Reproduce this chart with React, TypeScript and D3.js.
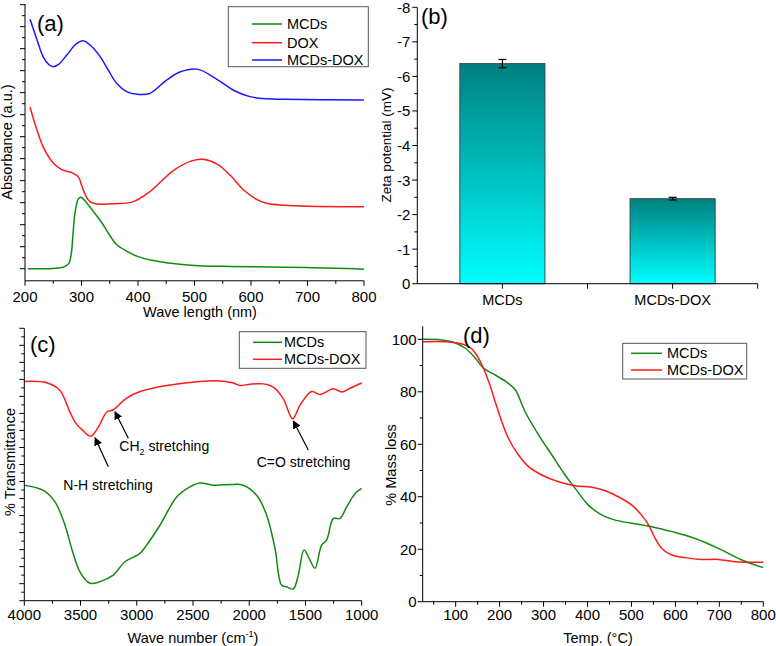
import React from "react";
import * as d3 from "d3";

// ---------- DATA ----------
// (a) UV-vis absorbance (wavelength nm, a.u.)
const uvMCDs: [number, number][] = [[205,0],[240,0],[262,0.04],[272,0.12],[278,0.25],[282,0.7],[285,1.6],[288,2.45],[291,2.9],[294,3.15],[298,3.25],[302,3.2],[308,3.03],[318,2.7],[333,2.2],[348,1.6],[362,1.1],[380,0.8],[400,0.55],[425,0.38],[450,0.27],[500,0.15],[550,0.11],[600,0.09],[700,0.05],[770,0.01],[800,-0.02]];
const uvDOX: [number, number][] = [[209,7.34],[220,6.4],[232,5.55],[250,4.8],[265,4.5],[285,4.34],[295,4.15],[300,3.8],[306,3.4],[315,3.05],[327,2.94],[360,2.95],[392,3.05],[421,3.5],[462,4.45],[495,4.9],[515,4.97],[540,4.75],[565,4.2],[586,3.6],[610,3.15],[627,2.97],[660,2.88],[700,2.84],[800,2.82]];
const uvMCDsDOX: [number, number][] = [[209,11.34],[220,10.5],[232,9.64],[242,9.28],[250,9.18],[260,9.3],[274,9.71],[290,10.2],[303,10.36],[318,10.1],[333,9.64],[348,9.0],[362,8.43],[380,8.05],[398,7.93],[421,7.97],[451,8.58],[475,8.95],[505,9.07],[539,8.62],[570,8.1],[598,7.82],[630,7.72],[657,7.7],[800,7.67]];
const uvSeriesNames = ["MCDs", "DOX", "MCDs-DOX"];

// (b) Zeta potential
const zetaCategories = ["MCDs", "MCDs-DOX"];
const zetaValues = [-6.37, -2.46];
const zetaErrors = [0.12, 0.04];
const zetaTicks = [0, -1, -2, -3, -4, -5, -6, -7, -8];

// (c) FTIR (wavenumber cm-1, % transmittance arbitrary)
const irMCDsDOX: [number, number][] = [[4000,80.5],[3801,80.0],[3683,77.2],[3594,69.2],[3540,65.0],[3490,62.9],[3410,60.4],[3342,63.7],[3268,69.2],[3209,70.1],[3090,74.4],[2971,76.8],[2734,79.0],[2438,80.5],[2290,80.7],[2141,79.9],[2082,79.0],[1993,79.5],[1874,79.6],[1786,78.4],[1697,74.1],[1614,66.8],[1549,71.7],[1445,76.8],[1371,75.7],[1252,77.8],[1178,76.6],[1104,78.0],[1000,79.9]];
const irMCDs: [number, number][] = [[4000,42.4],[3831,40.5],[3727,36.3],[3638,27.7],[3579,19.2],[3505,10.6],[3416,6.4],[3327,7.0],[3209,9.4],[3105,14.3],[2971,17.4],[2912,20.4],[2794,27.7],[2645,38.1],[2527,41.8],[2438,43.2],[2319,42.4],[2141,42.7],[2053,42.4],[1934,38.7],[1845,31.4],[1771,19.2],[1712,5.7],[1667,5.1],[1608,4.3],[1564,9.4],[1513,18.6],[1460,14.9],[1416,11.9],[1356,20.4],[1312,22.2],[1252,30.2],[1193,30.2],[1134,34.4],[1060,39.3],[1000,41.2]];
const irSeriesNames = ["MCDs", "MCDs-DOX"];
const irAnnotations = [
  { label: "N-H", tx: 3653, ty: 40.8, ax: 3253, ay: 49.2, hx: 3371, hy: 59.8 },
  { label: "CH2", tx: 3155, ty: 55.0, ax: 3075, ay: 59.6, hx: 3194, hy: 69.4 },
  { label: "C=O", tx: 1934, ty: 49.2, ax: 1475, ay: 55.3, hx: 1608, hy: 66.0 },
];

// (d) TGA (temperature °C, % mass)
const tgaMCDs: [number, number][] = [[26,100],[61,99.9],[92,99.1],[122,96.6],[145,92.8],[164,88.9],[190,86.4],[220,83.2],[236,80.7],[258,72.4],[289,63.5],[319,55.9],[349,48.3],[372,43.2],[402,36.8],[433,33.0],[463,31.1],[501,29.9],[546,28.6],[592,26.7],[645,24.1],[698,20.3],[751,15.9],[800,13.0]];
const tgaMCDsDOX: [number, number][] = [[26,99.1],[76,99.1],[107,98.5],[130,97.2],[145,94.7],[160,90.2],[175,83.9],[190,76.2],[205,68.6],[220,62.3],[243,55.9],[266,51.5],[296,48.3],[334,45.7],[372,44.2],[410,43.6],[440,42.3],[470,40.0],[501,36.8],[523,33.0],[539,29.2],[554,24.1],[569,20.3],[592,17.8],[622,16.8],[660,16.1],[698,16.1],[736,15.2],[800,15.0]];
const tgaSeriesNames = ["MCDs", "MCDs-DOX"];

// ---------- STYLE ----------
const FONT = "'Liberation Sans', Arial, sans-serif";
const GREEN = "#118a11";
const RED = "#ff1a1a";
const BLUE = "#1a1aff";
const TICK_FS = 15;

function Ticks({ scale, values, orient, pos, len, labels, fs = TICK_FS, labelOff = 8 }: any) {
  return (
    <g>
      {values.map((v: number, i: number) => {
        const p = scale(v);
        const lbl = labels ? labels(v, i) : null;
        if (orient === "bottom") {
          return (
            <g key={i}>
              <line x1={p} x2={p} y1={pos} y2={pos + len(v, i)} stroke="#000" strokeWidth={1} />
              {lbl !== null && (
                <text x={p} y={pos + labelOff + 11} textAnchor="middle" fontSize={fs}>{lbl}</text>
              )}
            </g>
          );
        }
        return (
          <g key={i}>
            <line x1={pos - len(v, i)} x2={pos} y1={p} y2={p} stroke="#000" strokeWidth={1} />
            {lbl !== null && (
              <text x={pos - labelOff} y={p} textAnchor="end" dominantBaseline="central" fontSize={fs}>{lbl}</text>
            )}
          </g>
        );
      })}
    </g>
  );
}

function Legend({ x, y, w, h, rows, names, colors, lx1, lx2, tx }: any) {
  return (
    <g>
      <rect x={x} y={y} width={w} height={h} fill="#fff" stroke="#555" strokeWidth={1} />
      {names.map((n: string, i: number) => (
        <g key={n}>
          <line x1={lx1} x2={lx2} y1={rows[i]} y2={rows[i]} stroke={colors[i]} strokeWidth={1.5} />
          <text x={tx} y={rows[i]} dominantBaseline="central" fontSize={14.5}>{n}</text>
        </g>
      ))}
    </g>
  );
}

export default function App() {
  // ----- panel a -----
  const aBottom = -0.55;
  const aTop = 12.03;
  const ax = d3.scaleLinear().domain([200, 800]).range([25, 364]);
  const ay = d3.scaleLinear().domain([aBottom, aTop]).range([280.8, 4]);
  const aLine = d3.line<[number, number]>().x(d => ax(d[0])).y(d => ay(d[1])).curve(d3.curveCatmullRom.alpha(0.5));
  const aXTicks = d3.range(200, 801, 50);
  const aYTicks = d3.range(0, 12.01, 0.5);

  // ----- panel b -----
  const bx = d3.scaleLinear().domain([0.5, 2.5]).range([417.3, 757.7]);
  const by = d3.scaleLinear().domain([0, -8]).range([283.7, 7.3]);
  const bYTicks = d3.range(0, -8.01, -0.5);
  const barW = bx(1.25) - bx(0.75);

  // ----- panel c -----
  const cx = d3.scaleLinear().domain([4000, 1000]).range([24.3, 361.7]);
  const cy = d3.scaleLinear().domain([0, 100]).range([600.7, 328.3]);
  const cLine = d3.line<[number, number]>().x(d => cx(d[0])).y(d => cy(d[1])).curve(d3.curveCatmullRom.alpha(0.5));
  const cXTicks = d3.range(4000, 999, -250);
  const cYTicks = d3.range(0, 32.01, 1).map(i => (i * 100) / 32);

  // ----- panel d -----
  const dx = d3.scaleLinear().domain([25, 800]).range([422.7, 763.3]);
  const dy = d3.scaleLinear().domain([0, 105]).range([601.7, 326.2]);
  const dLine = d3.line<[number, number]>().x(d => dx(d[0])).y(d => dy(d[1])).curve(d3.curveCatmullRom.alpha(0.5));
  const dXTicks = d3.range(50, 801, 50);
  const dYTicks = d3.range(0, 100.1, 10);

  return (
    <svg width={776} height={646} style={{ position: "absolute", left: 0, top: 0, background: "#fff" }} fontFamily={FONT}>
      <defs>
        <marker id="arrow" viewBox="0 0 10 10" refX="9" refY="5" markerWidth="7" markerHeight="7" orient="auto-start-reverse">
          <path d="M0,0 L10,5 L0,10 z" fill="#000" />
        </marker>
        <linearGradient id="barGrad" x1="0" y1="0" x2="0" y2="1">
          <stop offset="0" stopColor="#008080" />
          <stop offset="1" stopColor="#00ffff" />
        </linearGradient>
      </defs>
      <rect width={776} height={646} fill="#fff" />

      {/* ===== (a) ===== */}
      <g>
        <path d={aLine(uvMCDs) || ""} fill="none" stroke={GREEN} strokeWidth={1.5} />
        <path d={aLine(uvDOX) || ""} fill="none" stroke={RED} strokeWidth={1.5} />
        <path d={aLine(uvMCDsDOX) || ""} fill="none" stroke={BLUE} strokeWidth={1.5} />
        <line x1={ax(200)} x2={ax(800)} y1={ay(aBottom)} y2={ay(aBottom)} stroke="#000" />
        <line x1={ax(200)} x2={ax(200)} y1={ay(aBottom)} y2={ay(aTop)} stroke="#000" />
        <Ticks scale={ax} values={aXTicks} orient="bottom" pos={ay(aBottom)} len={(v: number) => (v % 100 === 0 ? 5 : 3)}
          labels={(v: number) => (v % 100 === 0 ? String(v) : null)} labelOff={10} />
        <Ticks scale={ay} values={aYTicks} orient="left" pos={ax(200)} len={(v: number) => (v % 1 === 0 ? 5 : 3)} />
        <text x={200} y={317} textAnchor="middle" fontSize={14.5}>Wave length (nm)</text>
        <text transform="translate(12,142) rotate(-90)" textAnchor="middle" fontSize={14.5}>Absorbance (a.u.)</text>
        <text x={37} y={31} fontSize={22}>(a)</text>
        <Legend x={228.3} y={6.7} w={140} h={60} rows={[24, 42.7, 60]} names={uvSeriesNames} colors={[GREEN, RED, BLUE]}
          lx1={252} lx2={282} tx={287} />
      </g>

      {/* ===== (b) ===== */}
      <g>
        {zetaValues.map((v, i) => {
          const cxp = bx(i + 1);
          return (
            <g key={i}>
              <rect x={cxp - barW / 2} y={by(v)} width={barW} height={by(0) - by(v)} fill="url(#barGrad)" stroke="#3a4a4a" strokeWidth={1} />
              <line x1={cxp} x2={cxp} y1={by(v - zetaErrors[i])} y2={by(v + zetaErrors[i])} stroke="#000" strokeWidth={1.2} />
              <line x1={cxp - 4} x2={cxp + 4} y1={by(v - zetaErrors[i])} y2={by(v - zetaErrors[i])} stroke="#000" strokeWidth={1.2} />
              <line x1={cxp - 4} x2={cxp + 4} y1={by(v + zetaErrors[i])} y2={by(v + zetaErrors[i])} stroke="#000" strokeWidth={1.2} />
              <text x={cxp} y={305} textAnchor="middle" fontSize={14.5}>{zetaCategories[i]}</text>
            </g>
          );
        })}
        <line x1={bx(0.5)} x2={bx(2.5)} y1={by(0)} y2={by(0)} stroke="#000" />
        <line x1={bx(0.5)} x2={bx(0.5)} y1={by(0)} y2={by(-8)} stroke="#000" />
        <Ticks scale={bx} values={[1, 1.5, 2, 2.5]} orient="bottom" pos={by(0)} len={() => 5} />
        <Ticks scale={by} values={bYTicks} orient="left" pos={bx(0.5)} len={(v: number) => (v % 1 === 0 ? 5 : 3)}
          labels={(v: number) => (v % 1 === 0 && zetaTicks.includes(v) ? (v === 0 ? "0" : String(v)) : null)} labelOff={7} />
        <text transform="translate(391,145) rotate(-90)" textAnchor="middle" fontSize={13.5}>Zeta potential (mV)</text>
        <text x={421} y={24} fontSize={22}>(b)</text>
      </g>

      {/* ===== (c) ===== */}
      <g>
        <path d={cLine(irMCDsDOX) || ""} fill="none" stroke={RED} strokeWidth={1.5} />
        <path d={cLine(irMCDs) || ""} fill="none" stroke={GREEN} strokeWidth={1.5} />
        <line x1={cx(4000)} x2={cx(1000)} y1={cy(0)} y2={cy(0)} stroke="#000" />
        <line x1={cx(4000)} x2={cx(4000)} y1={cy(0)} y2={cy(100)} stroke="#000" />
        <Ticks scale={cx} values={cXTicks} orient="bottom" pos={cy(0)} len={(v: number) => (v % 500 === 0 ? 5 : 3)}
          labels={(v: number) => (v % 500 === 0 ? String(v) : null)} labelOff={8} />
        <Ticks scale={cy} values={cYTicks} orient="left" pos={cx(4000)} len={(_v: number, i: number) => (i % 2 === 0 ? 5 : 3)} />
        <text x={193} y={643} textAnchor="middle" fontSize={14.5}>
          Wave number (cm<tspan dy={-6} fontSize={9}>-1</tspan><tspan dy={6}>)</tspan>
        </text>
        <text transform="translate(15,462) rotate(-90)" textAnchor="middle" fontSize={14.5}>% Transmittance</text>
        <text x={30} y={352} fontSize={22}>(c)</text>
        {irAnnotations.map((a, i) => (
          <g key={i}>
            <line x1={cx(a.ax)} y1={cy(a.ay)} x2={cx(a.hx)} y2={cy(a.hy)} stroke="#000" strokeWidth={1.2} markerEnd="url(#arrow)" />
            <text x={cx(a.tx)} y={cy(a.ty)} fontSize={14}>
              {a.label === "CH2" ? (
                <>CH<tspan dy={4} fontSize={9}>2</tspan><tspan dy={-4}> stretching</tspan></>
              ) : (
                `${a.label} stretching`
              )}
            </text>
          </g>
        ))}
        <Legend x={239.3} y={331.7} w={126.7} h={36.6} rows={[342.3, 359.3]} names={irSeriesNames} colors={[GREEN, RED]}
          lx1={253} lx2={282} tx={284} />
      </g>

      {/* ===== (d) ===== */}
      <g>
        <path d={dLine(tgaMCDs) || ""} fill="none" stroke={GREEN} strokeWidth={1.5} />
        <path d={dLine(tgaMCDsDOX) || ""} fill="none" stroke={RED} strokeWidth={1.5} />
        <line x1={dx(25)} x2={dx(800)} y1={dy(0)} y2={dy(0)} stroke="#000" />
        <line x1={dx(25)} x2={dx(25)} y1={dy(0)} y2={dy(105)} stroke="#000" />
        <Ticks scale={dx} values={dXTicks} orient="bottom" pos={dy(0)} len={(v: number) => (v % 100 === 0 ? 5 : 3)}
          labels={(v: number) => (v % 100 === 0 ? String(v) : null)} labelOff={7} />
        <Ticks scale={dy} values={dYTicks} orient="left" pos={dx(25)} len={(v: number) => (v % 20 === 0 ? 5 : 3)}
          labels={(v: number) => (v % 20 === 0 ? String(v) : null)} labelOff={6} />
        <text x={598} y={643} textAnchor="middle" fontSize={14.5}>Temp. (°C)</text>
        <text transform="translate(396,465) rotate(-90)" textAnchor="middle" fontSize={14.5}>% Mass loss</text>
        <text x={463} y={343} fontSize={22}>(d)</text>
        <Legend x={622.7} y={343.3} w={124} h={35.7} rows={[353.3, 370]} names={tgaSeriesNames} colors={[GREEN, RED]}
          lx1={631} lx2={662} tx={667} />
      </g>
    </svg>
  );
}
